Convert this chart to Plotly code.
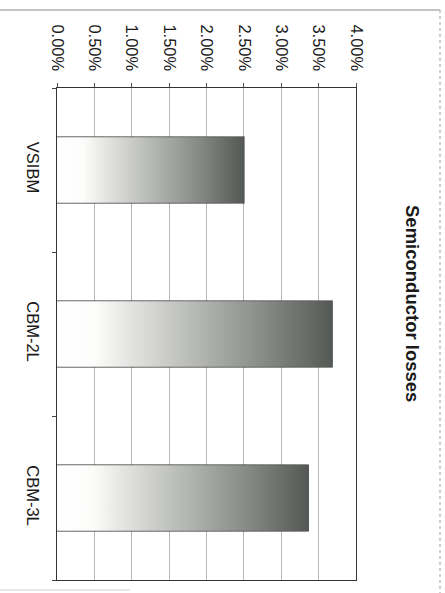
import plotly.graph_objects as go

# Semiconductor losses per converter topology (percent)
categories = ["VSIBM", "CBM-2L", "CBM-3L"]
losses_pct = [2.50, 3.68, 3.36]
value_ticks = [0.0, 0.5, 1.0, 1.5, 2.0, 2.5, 3.0, 3.5, 4.0]
value_tick_labels = ["0.00%", "0.50%", "1.00%", "1.50%", "2.00%",
                     "2.50%", "3.00%", "3.50%", "4.00%"]
title_text = "Semiconductor losses"

W, H = 445, 593
ML, MR, MT, MB = 57, 89, 88, 13
PW, PH = W - ML - MR, H - MT - MB
FONT = "Liberation Sans, Arial, sans-serif"
BAR_W = 0.40


def px_x(p):
    return (p - ML) / PW


def px_y(p):
    return (H - MB - p) / PH


fig = go.Figure()

# gradient body of each bar (white at the base, dark grey at the tip)
for i, v in enumerate(losses_pct):
    y0, y1 = i - BAR_W / 2, i + BAR_W / 2
    fig.add_trace(go.Scatter(
        x=[0, v, v, 0, 0], y=[y0, y0, y1, y1, y0],
        mode="lines", fill="toself", line=dict(width=0),
        fillgradient=dict(
            type="horizontal", start=0, stop=v,
            colorscale=[[0.0, "#ffffff"], [0.14, "#fcfcfb"], [0.45, "#c0c2bf"],
                        [0.75, "#888b87"], [1.0, "#555955"]],
        ),
        hoverinfo="skip", showlegend=False,
    ))

# bar outlines
fig.add_trace(go.Bar(
    x=losses_pct, y=list(range(len(categories))), orientation="h", width=BAR_W,
    marker=dict(color="rgba(0,0,0,0)", line=dict(color="#222222", width=1.2)),
    showlegend=False,
))

fig.update_layout(
    width=W, height=H,
    margin=dict(l=ML, r=MR, t=MT, b=MB),
    paper_bgcolor="white", plot_bgcolor="white",
    font=dict(family=FONT, color="#1a1a1a", size=16.5),
    xaxis=dict(
        side="top", range=[0, 4], tickmode="array", tickvals=value_ticks,
        ticktext=value_tick_labels, tickangle=90,
        showgrid=True, gridcolor="#b8b8b8", gridwidth=1, zeroline=False,
        showline=True, mirror=True, linecolor="#333333", linewidth=1,
        ticks="outside", ticklen=4, tickcolor="#555555",
        ticklabelstandoff=6, tickfont=dict(size=16.5, family=FONT),
    ),
    yaxis=dict(
        range=[len(categories) - 0.5, -0.5], tickmode="array",
        tickvals=list(range(len(categories))), ticktext=categories,
        tickangle=90, showgrid=False, zeroline=False,
        showline=True, mirror=True, linecolor="#333333", linewidth=1,
        ticks="", ticklabelstandoff=9, tickfont=dict(size=16.5, family=FONT),
        minor=dict(ticks="outside", ticklen=4, tick0=0.5, dtick=1,
                   tickcolor="#444444", showgrid=False),
    ),
    annotations=[dict(
        text="<b>" + title_text + "</b>", textangle=90,
        x=px_x(413), y=px_y(303), xref="paper", yref="paper",
        xanchor="center", yanchor="middle", showarrow=False,
        font=dict(size=18.5, family=FONT, color="#1a1a1a"),
    )],
    shapes=[
        dict(type="line", xref="paper", yref="paper", x0=px_x(0), x1=px_x(440),
             y0=px_y(10), y1=px_y(10), line=dict(color="#8a8a8a", width=1.2)),
        dict(type="line", xref="paper", yref="paper", x0=px_x(440), x1=px_x(440),
             y0=px_y(10), y1=px_y(593), line=dict(color="#a0a0a0", width=1, dash="dot")),
        dict(type="line", xref="paper", yref="paper", x0=px_x(0), x1=px_x(130),
             y0=px_y(590), y1=px_y(590), line=dict(color="#d0d0d0", width=1)),
    ],
)

fig.write_html("out.html")
